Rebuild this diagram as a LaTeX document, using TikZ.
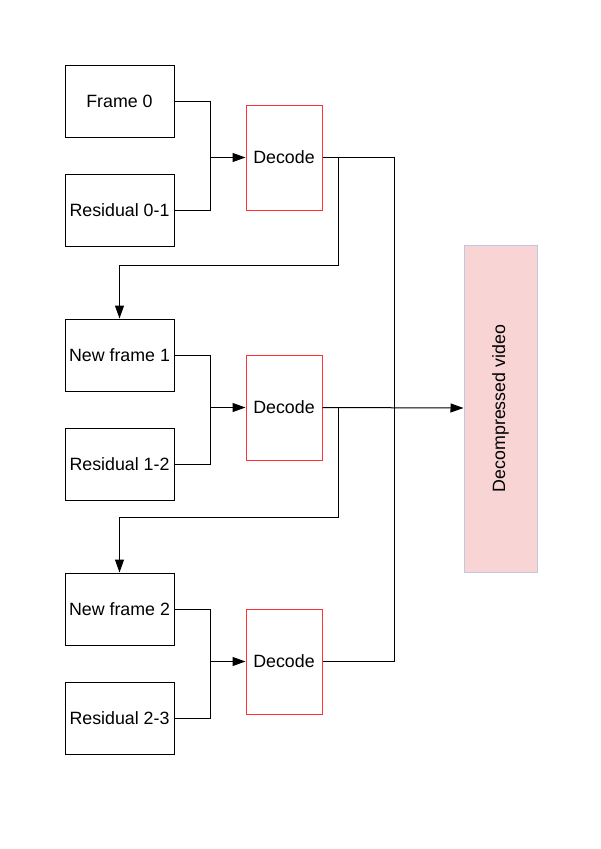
\documentclass[tikz,border=0pt]{standalone}
\usepackage{fontspec}
\setmainfont{Liberation Sans}
\usetikzlibrary{arrows.meta}
\definecolor{decred}{HTML}{FF3333}
\definecolor{vidfill}{HTML}{F9D4D4}
\definecolor{viddraw}{HTML}{C2C8E0}
\begin{document}
\begin{tikzpicture}[x=1pt,y=-1pt,
  every node/.style={font=\fontsize{17.8}{20}\selectfont, inner sep=0pt},
  framebox/.style={draw=black, line width=1pt, minimum width=109pt, minimum height=72pt},
  decbox/.style={draw=decred, line width=1pt, minimum width=76pt, minimum height=105pt},
  vidbox/.style={draw=viddraw, fill=vidfill, line width=1pt, minimum width=73pt, minimum height=327pt},
  conn/.style={draw=black, line width=1pt},
  arr/.style={conn, -{Triangle[length=13pt,width=9pt]}}]
\useasboundingbox (0,0) rectangle (600,849);
\node[framebox] (f0) at (119.5,101) {Frame 0};
\node[framebox] (r01) at (119.5,210) {Residual 0-1};
\node[decbox] (d1) at (284,157.5) {Decode};
\node[framebox] (f1) at (119.5,355) {New frame 1};
\node[framebox] (r12) at (119.5,464) {Residual 1-2};
\node[decbox] (d2) at (284,407.5) {Decode};
\node[framebox] (f2) at (119.5,609) {New frame 2};
\node[framebox] (r23) at (119.5,718) {Residual 2-3};
\node[decbox] (d3) at (284,661.5) {Decode};
\node[vidbox] (vid) at (500.5,408.5) {\rotatebox{90}{Decompressed video}};
\coordinate (j1) at (210,157.5);
\coordinate (j2) at (210,407.5);
\coordinate (j3) at (210,661.5);
\coordinate (jv) at (394,408);
% inputs to decoders
\draw[conn] (f0.east) -| (j1);
\draw[conn] (r01.east) -| (j1);
\draw[arr] (j1) -- (d1.west);
\draw[conn] (f1.east) -| (j2);
\draw[conn] (r12.east) -| (j2);
\draw[arr] (j2) -- (d2.west);
\draw[conn] (f2.east) -| (j3);
\draw[conn] (r23.east) -| (j3);
\draw[arr] (j3) -- (d3.west);
% feedback to next frames
\draw[arr] (d1.east) -- (338,157.5) -- (338,265) -| (f1.north);
\draw[arr] (d2.east) -- (338,407.5) -- (338,517) -| (f2.north);
% outputs to video
\draw[conn] (d1.east) -| (jv);
\draw[conn] (d3.east) -| (jv);
\draw[arr] (d2.east) -- (vid.west |- jv);
\end{tikzpicture}
\end{document}
